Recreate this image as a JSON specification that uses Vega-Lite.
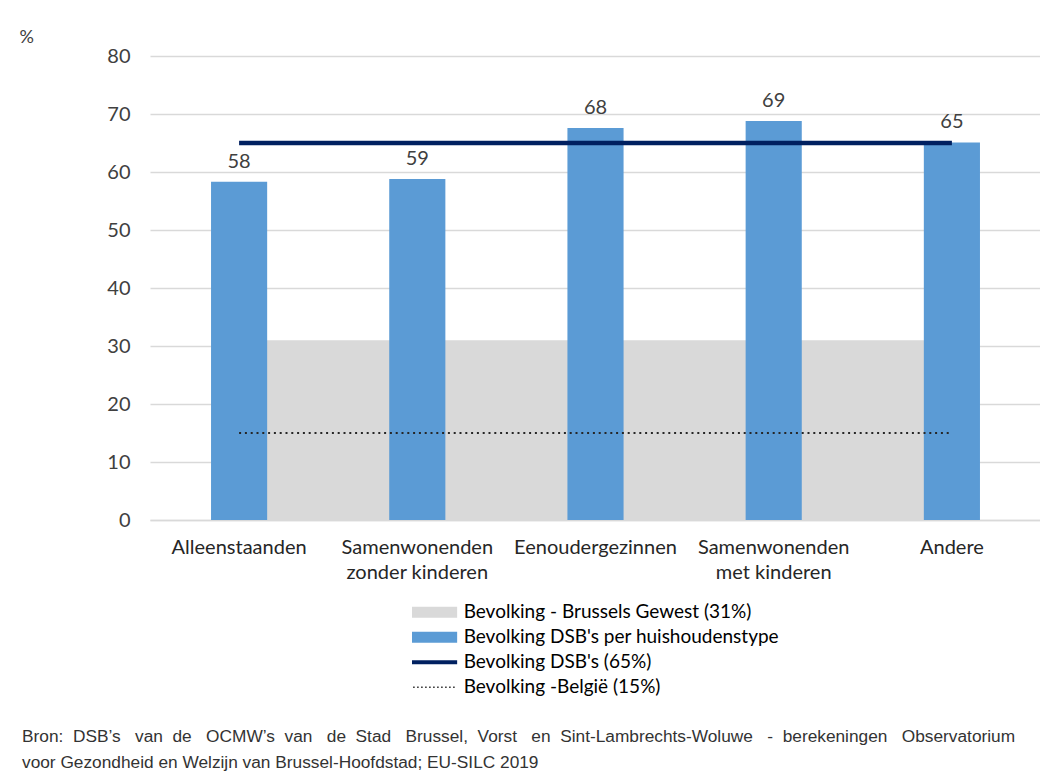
{
  "$schema": "https://vega.github.io/schema/vega-lite/v6.json",
  "width": 891,
  "height": 464,
  "autosize": {"type": "none"},
  "padding": {"left": 150, "top": 56, "right": 0, "bottom": 262},
  "background": "white",
  "config": {
    "font": "Lato",
    "view": {"stroke": null},
    "axisX": {
      "title": null,
      "labelAngle": 0,
      "labelFontSize": 20,
      "labelColor": "#262626",
      "labelPadding": 33,
      "labelLineHeight": 25,
      "labelBaseline": "alphabetic",
      "labelLimit": 0,
      "ticks": false,
      "domainColor": "#d9d9d9",
      "domainWidth": 1.5,
      "grid": false
    },
    "axisY": {
      "labelFontSize": 20,
      "labelColor": "#404040",
      "labelPadding": 20,
      "ticks": false,
      "domain": false,
      "gridColor": "#d9d9d9",
      "gridWidth": 1.5,
      "titleAngle": 0,
      "titleX": -131,
      "titleY": -19,
      "titleAlign": "left",
      "titleBaseline": "middle",
      "titleFontSize": 18,
      "titleFontWeight": "normal",
      "titleColor": "#404040"
    }
  },
  "title": {
    "text": [
      "Bron:\u00a0 DSB’s\u00a0\u00a0 van\u00a0 de\u00a0\u00a0 OCMW’s\u00a0 van\u00a0\u00a0 de\u00a0 Stad\u00a0\u00a0 Brussel,\u00a0 Vorst\u00a0\u00a0 en\u00a0 Sint-Lambrechts-Woluwe\u00a0\u00a0 -\u00a0 berekeningen\u00a0\u00a0 Observatorium",
      "voor Gezondheid en Welzijn van Brussel-Hoofdstad; EU-SILC 2019"
    ],
    "orient": "bottom",
    "anchor": "start",
    "frame": "group",
    "dx": -128,
    "offset": 28,
    "font": "Liberation Sans",
    "fontSize": 17.3,
    "fontWeight": "normal",
    "color": "#333333",
    "lineHeight": 26
  },
  "data": {
    "values": [
      {"cat": "Alleenstaanden", "value": 58.3, "brussels": 31, "dsb": 65, "belgie": 15},
      {"cat": "Samenwonenden zonder kinderen", "value": 58.8, "brussels": 31, "dsb": 65, "belgie": 15},
      {"cat": "Eenoudergezinnen", "value": 67.6, "brussels": 31, "dsb": 65, "belgie": 15},
      {"cat": "Samenwonenden met kinderen", "value": 68.8, "brussels": 31, "dsb": 65, "belgie": 15},
      {"cat": "Andere", "value": 65.1, "brussels": 31, "dsb": 65, "belgie": 15}
    ]
  },
  "layer": [
    {
      "mark": {"type": "area", "opacity": 1},
      "encoding": {
        "x": {"field": "cat", "type": "nominal", "sort": null, "bandPosition": 0.5, "scale": {"type": "band", "paddingInner": 0, "paddingOuter": 0}},
        "y": {"field": "brussels", "type": "quantitative", "title": "%", "scale": {"domain": [0, 80], "nice": false}, "axis": {"values": [0, 10, 20, 30, 40, 50, 60, 70, 80]}},
        "color": {"datum": "Bevolking - Brussels Gewest (31%)", "type": "nominal"}
      }
    },
    {
      "mark": {"type": "bar", "width": {"band": 0.315}},
      "encoding": {
        "x": {"field": "cat", "type": "nominal", "sort": null, "scale": {"type": "band", "paddingInner": 0, "paddingOuter": 0},
          "axis": {"labelExpr": "datum.value == 'Samenwonenden zonder kinderen' ? ['Samenwonenden', 'zonder kinderen'] : datum.value == 'Samenwonenden met kinderen' ? ['Samenwonenden', 'met kinderen'] : datum.value"}},
        "y": {"field": "value", "type": "quantitative", "title": "%", "scale": {"domain": [0, 80], "nice": false}},
        "color": {
          "datum": "Bevolking DSB's per huishoudenstype",
          "type": "nominal",
          "scale": {
            "domain": ["Bevolking - Brussels Gewest (31%)", "Bevolking DSB's per huishoudenstype", "Bevolking DSB's (65%)", "Bevolking -België (15%)"],
            "range": ["#d9d9d9", "#5b9bd5", "#002060", "#262626"]
          },
          "legend": {
            "title": null,
            "orient": "none",
            "legendX": 262,
            "legendY": 544,
            "labelFontSize": 19,
            "labelColor": "#000000",
            "labelFont": "Lato",
            "labelLimit": 0,
            "symbolSize": 2304,
            "clipHeight": 24.7,
            "rowPadding": 0,
            "labelOffset": 21,
            "symbolOffset": 11.65,
            "encode": {
              "symbols": {
                "update": {
                  "shape": {"signal": "datum.index < 2 ? 'M-1,-0.23H1V0.23H-1Z' : 'M-1,0H1'"},
                  "size": {"value": 2304},
                  "fill": {"signal": "datum.index == 0 ? '#d9d9d9' : datum.index == 1 ? '#5b9bd5' : 'transparent'"},
                  "stroke": {"signal": "datum.index == 2 ? '#002060' : datum.index == 3 ? '#262626' : 'transparent'"},
                  "strokeWidth": {"signal": "datum.index == 2 ? 4 : datum.index == 3 ? 1.5 : 0"},
                  "strokeDash": {"signal": "datum.index == 3 ? [1.5, 2.5] : [1, 0]"},
                  "opacity": {"value": 1}
                }
              }
            }
          }
        }
      }
    },
    {
      "mark": {"type": "line", "strokeWidth": 4.5, "strokeCap": "butt"},
      "encoding": {
        "x": {"field": "cat", "type": "nominal", "sort": null, "bandPosition": 0.5, "scale": {"type": "band", "paddingInner": 0, "paddingOuter": 0}},
        "y": {"field": "dsb", "type": "quantitative", "title": "%", "scale": {"domain": [0, 80], "nice": false}},
        "color": {"datum": "Bevolking DSB's (65%)", "type": "nominal"}
      }
    },
    {
      "mark": {"type": "line", "strokeWidth": 2, "strokeDash": [2, 3.8], "strokeCap": "butt"},
      "encoding": {
        "x": {"field": "cat", "type": "nominal", "sort": null, "bandPosition": 0.5, "scale": {"type": "band", "paddingInner": 0, "paddingOuter": 0}},
        "y": {"field": "belgie", "type": "quantitative", "title": "%", "scale": {"domain": [0, 80], "nice": false}},
        "color": {"datum": "Bevolking -België (15%)", "type": "nominal"}
      }
    },
    {
      "mark": {"type": "text", "baseline": "alphabetic", "dy": -14, "fontSize": 20, "color": "#404040"},
      "encoding": {
        "x": {"field": "cat", "type": "nominal", "sort": null, "bandPosition": 0.5, "scale": {"type": "band", "paddingInner": 0, "paddingOuter": 0}},
        "y": {"field": "value", "type": "quantitative", "title": "%", "scale": {"domain": [0, 80], "nice": false}},
        "text": {"field": "value", "type": "quantitative", "format": ".0f"}
      }
    }
  ]
}
